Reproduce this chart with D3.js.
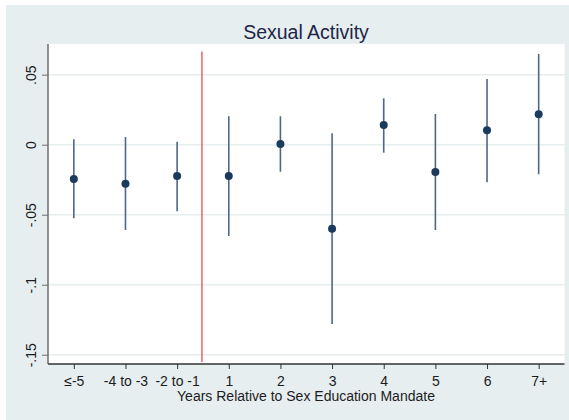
<!DOCTYPE html>
<html>
<head>
<meta charset="utf-8">
<script src="https://cdn.jsdelivr.net/npm/d3@7"></script>
<style>
  body { margin: 0; background: #ffffff; }
  svg { display: block; }
  text { font-family: "Liberation Sans", Arial, Helvetica, sans-serif; }
</style>
</head>
<body>
<svg id="chart" width="569" height="420"></svg>
<script>
const categories = ["≤-5", "-4 to -3", "-2 to -1", "1", "2", "3", "4", "5", "6", "7+"];
const estimates  = [-0.0245, -0.0279, -0.0224, -0.0224, 0.0005, -0.0600, 0.0141, -0.0195, 0.0103, 0.0217];
const ciLower    = [-0.0526, -0.0609, -0.0475, -0.0652, -0.0193, -0.1280, -0.0057, -0.0609, -0.0269, -0.0211];
const ciUpper    = [ 0.0038,  0.0055,  0.0021,  0.0203,  0.0203,  0.0081,  0.0331,  0.0219,  0.0469,  0.0648];
const yTicks     = [0.05, 0, -0.05, -0.1, -0.15];
const yTickLabels = [".05", "0", "-.05", "-.1", "-.15"];
const mandateLine = 3.5;

const svg = d3.select("#chart");
const W = 569, H = 420;
const bg = "#e6eef0";

svg.append("rect").attr("x", 6).attr("y", 5).attr("width", W - 6).attr("height", H - 5).attr("fill", bg);

const plot = { left: 48, right: 564.5, top: 44, bottom: 364 };
svg.append("rect").attr("x", plot.left).attr("y", plot.top)
  .attr("width", plot.right - plot.left).attr("height", plot.bottom - plot.top).attr("fill", "#ffffff");

const x = d3.scaleLinear().domain([0.5, 10.5]).range([plot.left, plot.right]);
const y = d3.scaleLinear().domain([-0.1566, 0.0719]).range([plot.bottom, plot.top]);

// gridlines
svg.append("g").selectAll("line").data(yTicks).join("line")
  .attr("x1", plot.left).attr("x2", plot.right)
  .attr("y1", d => y(d)).attr("y2", d => y(d))
  .attr("stroke", "#e6eef0").attr("stroke-width", 1.5);

// red vertical line
svg.append("line")
  .attr("x1", x(mandateLine) - 1).attr("x2", x(mandateLine) - 1)
  .attr("y1", 51.5).attr("y2", 362)
  .attr("stroke", "#f0393f").attr("stroke-width", 1.2);

// y axis
const yAxis = d3.axisLeft(y).tickValues(yTicks).tickSize(6)
  .tickFormat((d, i) => yTickLabels[i]);
const gy = svg.append("g").attr("transform", `translate(${plot.left},0)`).call(yAxis);
gy.select(".domain").attr("stroke", "#6e6e6e").attr("stroke-width", 1.5)
  .attr("d", `M0,${plot.top}V${plot.bottom}`);
gy.selectAll(".tick line").attr("stroke", "#6e6e6e");
gy.selectAll(".tick text")
  .attr("font-size", 14).attr("fill", "#1c1c1c")
  .attr("text-anchor", "middle")
  .attr("transform", "translate(-17,0) rotate(-90)")
  .attr("x", 0).attr("y", 0).attr("dy", "0.35em");
gy.attr("font-family", null);

// x axis
const xAxis = d3.axisBottom(x).tickValues(d3.range(1, categories.length + 1)).tickSize(5)
  .tickFormat((d) => categories[d - 1]);
const gx = svg.append("g").attr("transform", `translate(0,${plot.bottom})`).call(xAxis);
gx.select(".domain").attr("stroke", "#333").attr("stroke-width", 1.5)
  .attr("d", `M${plot.left},0H${plot.right}`);
gx.selectAll(".tick line").attr("stroke", "#333");
gx.selectAll(".tick text").attr("font-size", 14).attr("fill", "#1c1c1c").attr("y", 22).attr("dy", 0);
gx.attr("font-family", null);

// CI lines
const data = categories.map((c, i) => ({ i: i + 1, est: estimates[i], lo: ciLower[i], hi: ciUpper[i] }));
svg.append("g").selectAll("line").data(data).join("line")
  .attr("x1", d => x(d.i)).attr("x2", d => x(d.i))
  .attr("y1", d => y(d.lo)).attr("y2", d => y(d.hi))
  .attr("stroke", "#4f6688").attr("stroke-width", 1.6);

// points
svg.append("g").selectAll("circle").data(data).join("circle")
  .attr("cx", d => x(d.i)).attr("cy", d => y(d.est)).attr("r", 4)
  .attr("fill", "#1a3a5e");

// title
svg.append("text").attr("x", 306).attr("y", 38.5).attr("text-anchor", "middle")
  .attr("font-size", 19.5).attr("fill", "#1e2547").text("Sexual Activity");

// x title
svg.append("text").attr("x", 306).attr("y", 401).attr("text-anchor", "middle")
  .attr("font-size", 14).attr("fill", "#1c1c1c").text("Years Relative to Sex Education Mandate");
</script>
</body>
</html>
